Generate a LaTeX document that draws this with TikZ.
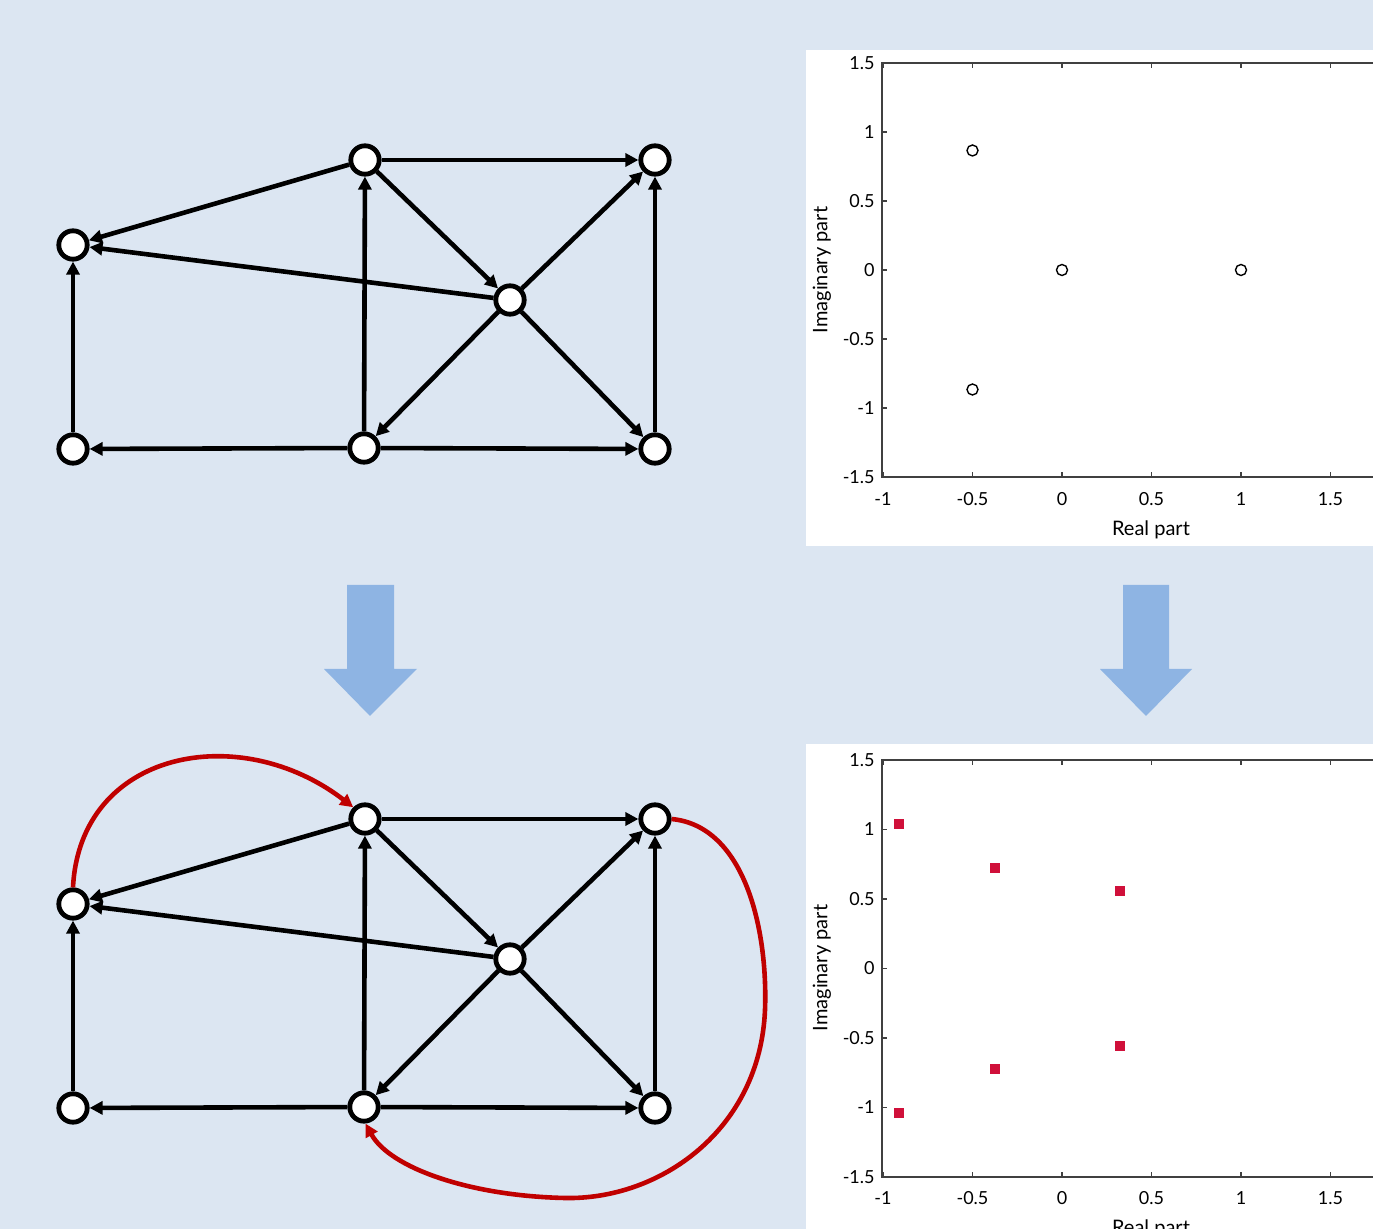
\documentclass[tikz,border=0pt]{standalone}
\usepackage{fontspec}
\setmainfont{Lato}
\usetikzlibrary{arrows.meta}
\definecolor{bg}{HTML}{DCE6F2}
\definecolor{arrowblue}{HTML}{8EB4E3}
\definecolor{dred}{HTML}{C00000}
\definecolor{sqred}{HTML}{D0103A}
\definecolor{axisgray}{HTML}{404040}
\begin{document}
\begin{tikzpicture}[x=0.5pt,y=-0.5pt,
  vnode/.style={circle,draw=black,fill=white,line width=2.4pt,minimum size=14.2pt,inner sep=0pt},
  edge/.style={draw=black,line width=2.3pt,-{Triangle[length=6.5pt,width=6.5pt]}},
  redge/.style={draw=dred,line width=2.3pt,-{Triangle[length=6.5pt,width=6.5pt]}},
  bigarrow/.style={fill=arrowblue},
  panel/.style={fill=white},
  axisline/.style={draw=axisgray,line width=0.6pt},
  ticklbl/.style={font=\fontsize{9}{10}\selectfont,inner sep=0pt},
  axlbl/.style={font=\fontsize{10}{11}\selectfont,inner sep=0pt},
  eig/.style={circle,draw=black,line width=0.7pt,minimum size=5.5pt,inner sep=0pt},
  eigsq/.style={rectangle,fill=sqred,minimum size=5pt,inner sep=0pt}
]
\clip (0,0) rectangle (1373,1229);
\fill[bg] (0,0) rectangle (1373,1229);

% ---------- top graph ----------
\node[vnode] (A) at (73,245) {};
\node[vnode] (B) at (73,449) {};
\node[vnode] (C) at (365,160) {};
\node[vnode] (D) at (364,448) {};
\node[vnode] (E) at (510,300) {};
\node[vnode] (F) at (655,160) {};
\node[vnode] (G) at (655,449) {};
\draw[edge] (C) -- (A);
\draw[edge] (E) -- (A);
\draw[edge] (B) -- (A);
\draw[edge] (D) -- (B);
\draw[edge] (D) -- (C);
\draw[edge] (C) -- (F);
\draw[edge] (C) -- (E);
\draw[edge] (E) -- (F);
\draw[edge] (E) -- (D);
\draw[edge] (E) -- (G);
\draw[edge] (D) -- (G);
\draw[edge] (G) -- (F);

% ---------- bottom graph ----------
\node[vnode] (A2) at (73,904) {};
\node[vnode] (B2) at (73,1108) {};
\node[vnode] (C2) at (365,819) {};
\node[vnode] (D2) at (364,1107) {};
\node[vnode] (E2) at (510,959) {};
\node[vnode] (F2) at (655,819) {};
\node[vnode] (G2) at (655,1108) {};
\draw[edge] (C2) -- (A2);
\draw[edge] (E2) -- (A2);
\draw[edge] (B2) -- (A2);
\draw[edge] (D2) -- (B2);
\draw[edge] (D2) -- (C2);
\draw[edge] (C2) -- (F2);
\draw[edge] (C2) -- (E2);
\draw[edge] (E2) -- (F2);
\draw[edge] (E2) -- (D2);
\draw[edge] (E2) -- (G2);
\draw[edge] (D2) -- (G2);
\draw[edge] (G2) -- (F2);
\draw[redge] (A2.north) .. controls (80,750) and (240,720) .. (C2.north west);
\draw[redge] (F2.east) .. controls (745,826) and (768,930) .. (765,1010)
   .. controls (760,1130) and (660,1200) .. (565,1198)
   .. controls (470,1196) and (390,1168) .. (D2.-85);

% ---------- blue arrows ----------
\fill[bigarrow] (347,585) -- (394,585) -- (394,669) -- (417,669) -- (370,716) -- (324,669) -- (347,669) -- cycle;
\fill[bigarrow] (1123,585) -- (1169,585) -- (1169,669) -- (1192,669) -- (1146,716) -- (1100,669) -- (1123,669) -- cycle;

% ---------- top plot ----------
\fill[panel] (806,50) rectangle (1373,546);
\draw[axisline] (1373,63) -- (882,63) -- (882,477) -- (1373,477);
\foreach \v/\t in {-1/-1,-0.5/-0.5,0/0,0.5/0.5,1/1,1.5/1.5}{
  \draw[axisline] ({1062+179*(\v)},477) -- ++(0,-5);
  \draw[axisline] ({1062+179*(\v)},63) -- ++(0,5);
  \node[ticklbl] at ({1062+179*(\v)},499) {\t};
}
\foreach \v/\t in {-1.5/-1.5,-1/-1,-0.5/-0.5,0/0,0.5/0.5,1/1,1.5/1.5}{
  \draw[axisline] (882,{270-138*(\v)}) -- ++(5,0);
  \node[ticklbl,anchor=east] at (875,{270-138*(\v)}) {\t};
}
\node[axlbl] at (1151,530) {Real part};
\node[axlbl,rotate=90] at (822,270) {Imaginary part};
\node[eig] (p1) at ({1062+179*(-0.5)},{270-138*(0.866)}) {};
\node[eig] (p2) at ({1062+179*(-0.5)},{270-138*(-0.866)}) {};
\node[eig] (p3) at (1062,270) {};
\node[eig] (p4) at (1241,270) {};

% ---------- bottom plot ----------
\fill[panel] (806,744) rectangle (1373,1229);
\draw[axisline] (1373,760) -- (882,760) -- (882,1177) -- (1373,1177);
\foreach \v/\t in {-1/-1,-0.5/-0.5,0/0,0.5/0.5,1/1,1.5/1.5}{
  \draw[axisline] ({1062+179*(\v)},1177) -- ++(0,-5);
  \draw[axisline] ({1062+179*(\v)},760) -- ++(0,5);
  \node[ticklbl] at ({1062+179*(\v)},1198) {\t};
}
\foreach \v/\t in {-1.5/-1.5,-1/-1,-0.5/-0.5,0/0,0.5/0.5,1/1,1.5/1.5}{
  \draw[axisline] (882,{968.5-139*(\v)}) -- ++(5,0);
  \node[ticklbl,anchor=east] at (875,{968.5-139*(\v)}) {\t};
}
\node[axlbl] at (1151,1229) {Real part};
\node[axlbl,rotate=90] at (822,968) {Imaginary part};
\node[eigsq] (q1) at (899,824) {};
\node[eigsq] (q2) at (899,1113) {};
\node[eigsq] (q3) at (995,868) {};
\node[eigsq] (q4) at (995,1069) {};
\node[eigsq] (q5) at (1120,891) {};
\node[eigsq] (q6) at (1120,1046) {};
\end{tikzpicture}
\end{document}
